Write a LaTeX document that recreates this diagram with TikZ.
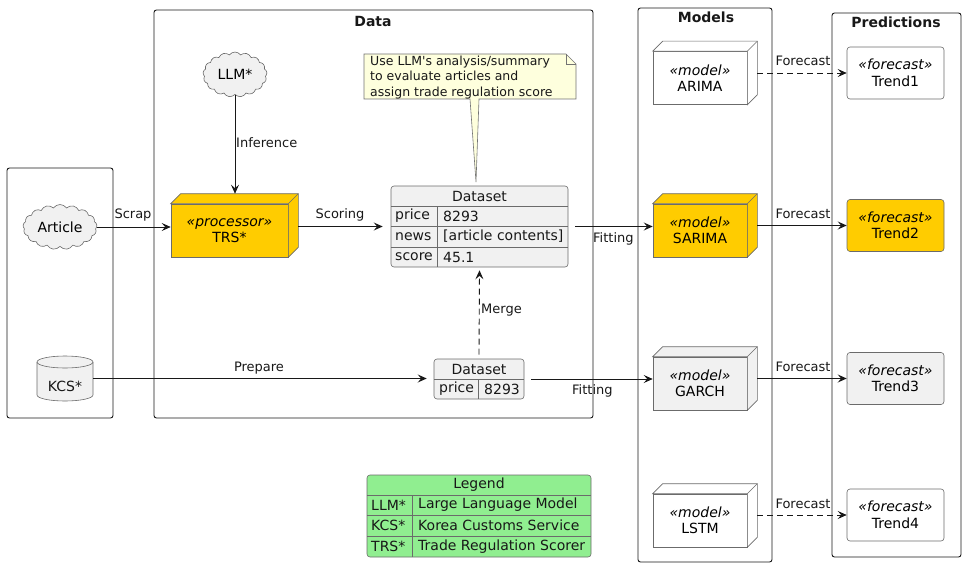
\documentclass[tikz,border=0pt]{standalone}
\usepackage{fontspec}
\setmainfont{DejaVu Sans}[Ligatures=TeXOff]
\usetikzlibrary{arrows.meta,shapes.symbols,calc}
\definecolor{gold}{HTML}{FFCC00}
\definecolor{pgray}{HTML}{F1F1F1}
\definecolor{notefill}{HTML}{FEFFDD}
\definecolor{legendg}{HTML}{90EE90}
\definecolor{lin}{HTML}{181818}
\newcommand{\cubefaces}[2]{%
  \draw[elem, fill=#2] (#1.north west) -- ++(10pt,10pt) -- ([shift={(10pt,10pt)}]#1.north east) -- ([shift={(10pt,10pt)}]#1.south east) -- (#1.south east) -- (#1.north east) -- cycle;
  \draw[elem] (#1.north east) -- ++(10pt,10pt);}
\begin{document}
\begin{tikzpicture}[x=1pt,y=-1pt,
  container/.style={draw=lin, line width=0.9pt, rounded corners=2.5pt},
  elem/.style={draw=black!58, line width=0.6pt},
  conn/.style={draw=lin, line width=0.9pt, -{Stealth[length=9pt,width=8pt,inset=3.5pt]}},
  dsh/.style={dash pattern=on 6pt off 4pt},
  lbl/.style={font=\fontsize{13}{15}\selectfont, inner sep=0pt, text=lin},
  txt/.style={font=\fontsize{14}{16}\selectfont, inner sep=0pt, text=lin},
  ttl/.style={font=\fontsize{14}{16}\selectfont\bfseries, inner sep=0pt, text=lin},
  front/.style={elem, minimum width=94pt, minimum height=53pt, inner sep=0pt, align=center, font=\fontsize{14}{16.5}\selectfont},
  trend/.style={elem, rounded corners=3pt, minimum width=97pt, minimum height=52pt, inner sep=0pt, align=center, font=\fontsize{14}{16.5}\selectfont},
  cld/.style={elem, fill=pgray, cloud, cloud puffs=17, cloud puff arc=110, cloud ignores aspect, minimum height=45pt, inner sep=0pt, font=\fontsize{14}{16}\selectfont},
  tbl/.style={elem, fill=pgray, rounded corners=3pt, inner sep=0pt},
]
\useasboundingbox (0,0) rectangle (965,567);

% containers
\draw[container] (7,168) rectangle (113,418);
\draw[container] (154,10) rectangle (593,418);
\draw[container] (638,8) rectangle (772,562);
\draw[container] (832,13) rectangle (961,557);
\node[ttl] (tData) at (373,21) {Data};
\node[ttl] (tModels) at (706,17) {Models};
\node[ttl] (tPred) at (896,22) {Predictions};

% left sources
\node[cld, minimum width=74pt] (article) at (60,227) {Article};
\path[elem, fill=pgray] (37,362) -- (37,395) arc[start angle=180, end angle=360, x radius=28pt, y radius=6pt] -- (93,362) arc[start angle=0, end angle=180, x radius=28pt, y radius=6pt] -- cycle;
\draw[elem] (37,362) arc[start angle=180, end angle=360, x radius=28pt, y radius=6pt];
\node[minimum width=56pt, minimum height=45pt, inner sep=0pt] (kcs) at (65,378.5) {};
\node[txt] (kcsT) at (65,386) {KCS*};

% data
\node[cld, minimum width=64pt] (llm) at (235,74.5) {LLM*};
\node[front, fill=gold, minimum width=117pt] (trs) at (229.5,230.5) {{\itshape «processor»}\\TRS*};
\cubefaces{trs}{gold}
\coordinate (trsR) at ([xshift=10pt]trs.east);
\coordinate (trsT) at ([yshift=10pt]trs.north);

% note
\path[draw=black!55, line width=0.6pt, fill=notefill] (364,54) -- (566,54) -- (576,64) -- (576,99) -- (479,99) -- (476,182) -- (470,99) -- (364,99) -- cycle;
\draw[draw=black!55, line width=0.6pt] (566,54) -- (566,64) -- (576,64);
\node[lbl, align=left, anchor=west, font=\fontsize{12.5}{15.5}\selectfont] (note) at (370,77.5) {Use LLM's analysis/summary\\to evaluate articles and\\assign trade regulation score};

% dataset 1
\node[tbl, minimum width=177pt, minimum height=81pt] (ds1) at (479.5,226.5) {};
\draw[elem] (391,206) -- (568,206) (391,226.5) -- (568,226.5) (391,247) -- (568,247) (437,206) -- (437,267);
\node[txt] (ds1t) at (479.5,196) {Dataset};
\node[txt, anchor=west] (ds1a) at (395,216) {price};
\node[txt, anchor=west] (ds1b) at (443,216) {8293};
\node[txt, anchor=west] (ds1c) at (395,236.5) {news};
\node[txt, anchor=west] (ds1d) at (443,236.5) {[article contents]};
\node[txt, anchor=west] (ds1e) at (395,257) {score};
\node[txt, anchor=west] (ds1f) at (443,257) {45.1};

% dataset 2
\node[tbl, minimum width=90pt, minimum height=40pt] (ds2) at (479,379) {};
\draw[elem] (434,379) -- (524,379) (478,379) -- (478,399);
\node[txt] (ds2t) at (479,369) {Dataset};
\node[txt, anchor=west] (ds2a) at (439,389) {price};
\node[txt, anchor=west] (ds2b) at (484,389) {8293};

% legend
\node[tbl, fill=legendg, minimum width=224pt, minimum height=82pt] (legend) at (479,516) {};
\draw[elem] (367,495) -- (591,495) (367,515.5) -- (591,515.5) (367,536) -- (591,536) (412,495) -- (412,557);
\node[txt] (lgT) at (479,485) {Legend};
\node[txt, anchor=west] (lg1) at (371,505) {LLM*};
\node[txt, anchor=west] (lg2) at (418,505) {Large Language Model};
\node[txt, anchor=west] (lg3) at (371,525.5) {KCS*};
\node[txt, anchor=west] (lg4) at (418,525.5) {Korea Customs Service};
\node[txt, anchor=west] (lg5) at (371,546.5) {TRS*};
\node[txt, anchor=west] (lg6) at (418,546.5) {Trade Regulation Scorer};

% models
\node[front, fill=white] (arima) at (700,78) {{\itshape «model»}\\ARIMA};
\cubefaces{arima}{white}
\node[front, fill=gold] (sarima) at (700,230.5) {{\itshape «model»}\\SARIMA};
\cubefaces{sarima}{gold}
\node[front, fill=pgray] (garch) at (700,383.5) {{\itshape «model»}\\GARCH};
\cubefaces{garch}{pgray}
\node[front, fill=white] (lstm) at (700,520.5) {{\itshape «model»}\\LSTM};
\cubefaces{lstm}{white}
\coordinate (arimaR) at ([xshift=10pt]arima.east);
\coordinate (sarimaR) at ([xshift=10pt]sarima.east);
\coordinate (garchR) at ([xshift=10pt]garch.east);
\coordinate (lstmR) at ([xshift=10pt]lstm.east);

% predictions
\node[trend, fill=white] (trend1) at (895.5,73) {{\itshape «forecast»}\\Trend1};
\node[trend, fill=gold] (trend2) at (895.5,225.5) {{\itshape «forecast»}\\Trend2};
\node[trend, fill=pgray] (trend3) at (895.5,378.5) {{\itshape «forecast»}\\Trend3};
\node[trend, fill=white] (trend4) at (895.5,515) {{\itshape «forecast»}\\Trend4};

% connectors
\draw[conn] (article.east) -- (article.east -| trs.west);
\node[lbl] (lScrap) at (133,215) {Scrap};
\draw[conn] (llm.south) -- (llm.south |- trsT);
\node[lbl, anchor=west] (lInf) at (236,143) {Inference};
\draw[conn] (ds1.west -| trsR) -- ([xshift=-8pt]ds1.west);
\node[lbl] (lScore) at (340,215) {Scoring};
\draw[conn] (kcs.east) -- ([xshift=-7pt]kcs.east -| ds2.west);
\node[lbl] (lPrep) at (259,368) {Prepare};
\draw[conn, dsh] ([yshift=4pt]ds2.north) -- ([yshift=-3pt]ds1.south);
\node[lbl, anchor=west] (lMerge) at (481,310) {Merge};
\draw[conn] ([xshift=7pt]ds1.east) -- (ds1.east -| sarima.west);
\node[lbl, anchor=west] (lFit1) at (593,239) {Fitting};
\draw[conn] ([xshift=7pt]ds2.east) -- (ds2.east -| garch.west);
\node[lbl, anchor=west] (lFit2) at (572,391) {Fitting};
\draw[conn, dsh] (arimaR |- trend1.west) -- (trend1.west);
\node[lbl] (lF1) at (803,61) {Forecast};
\draw[conn] (sarimaR |- trend2.west) -- (trend2.west);
\node[lbl] (lF2) at (803,214) {Forecast};
\draw[conn] (garchR |- trend3.west) -- (trend3.west);
\node[lbl] (lF3) at (803,367) {Forecast};
\draw[conn, dsh] (lstmR |- trend4.west) -- (trend4.west);
\node[lbl] (lF4) at (803,504) {Forecast};
\end{tikzpicture}
\end{document}
